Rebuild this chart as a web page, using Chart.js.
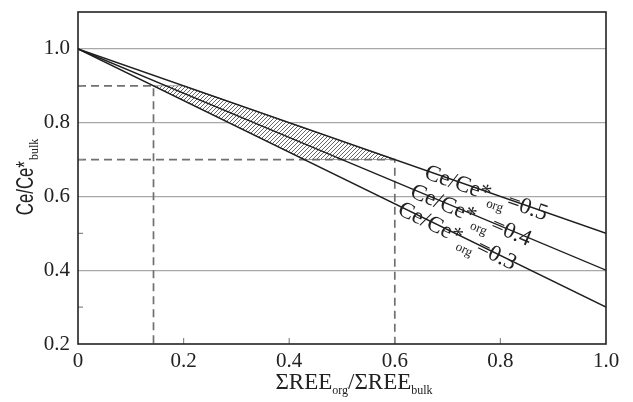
<!DOCTYPE html>
<html>
<head>
<meta charset="utf-8">
<script src="https://cdn.jsdelivr.net/npm/chart.js@4.4.1/dist/chart.umd.min.js"></script>
<style>
html,body{margin:0;padding:0;background:#fff;}
#wrap{width:633px;height:402px;}
</style>
</head>
<body>
<div id="wrap"><canvas id="c" width="633" height="402"></canvas></div>
<script>
// ---- data ----
const lineX = [0, 1];
const ratios = [0.5, 0.4, 0.3];
const lineY05 = [1.0, 0.5];
const lineY04 = [1.0, 0.4];
const lineY03 = [1.0, 0.3];
const hatchX = [0.143, 0.2, 0.6, 0.429, 0.143];
const hatchY = [0.9, 0.9, 0.7, 0.7, 0.9];
const guideAX = [0, 0.143, 0.143];
const guideAY = [0.9, 0.9, 0.2];
const guideBX = [0, 0.6, 0.6];
const guideBY = [0.7, 0.7, 0.2];
const xTicks = [0, 0.2, 0.4, 0.6, 0.8, 1.0];
const yTicks = [0.2, 0.4, 0.6, 0.8, 1.0];
const xMinorTicks = [0.2, 0.4, 0.6, 0.8];
const yMinorTicks = [0.3, 0.5, 0.7, 0.9];
const labelStartX = [0.659, 0.633, 0.61];
const lineLabelMain = 'Ce/Ce*';
const lineLabelSub = 'org';
const xTitleParts = ['ΣREE', 'org', '/ΣREE', 'bulk'];
const yTitleMain = 'Ce/Ce*';
const yTitleSub = 'bulk';

const SERIF = "'Liberation Serif', 'DejaVu Serif', serif";
const SANS = "'Liberation Sans', Arial, sans-serif";
const TXT = '#222';

function pts(xs, ys) { return xs.map((x, i) => ({x: x, y: ys[i]})); }

function hatchPattern() {
  const s = 4;
  const c = document.createElement('canvas');
  c.width = s; c.height = s;
  const g = c.getContext('2d');
  g.fillStyle = '#fff'; g.fillRect(0, 0, s, s);
  g.strokeStyle = '#666'; g.lineWidth = 1;
  g.beginPath();
  g.moveTo(0, s); g.lineTo(s, 0);
  g.moveTo(-1, 1); g.lineTo(1, -1);
  g.moveTo(s - 1, s + 1); g.lineTo(s + 1, s - 1);
  g.stroke();
  return g.createPattern(c, 'repeat');
}

const lineSeries = [lineY05, lineY04, lineY03];

const decorPlugin = {
  id: 'decor',
  afterDatasetsDraw(chart) {
    const ctx = chart.ctx;
    const xs = chart.scales.x, ys = chart.scales.y;
    const a = chart.chartArea;
    ctx.save();
    // minor ticks
    ctx.strokeStyle = '#8a8a8a'; ctx.lineWidth = 1.2;
    ctx.beginPath();
    yMinorTicks.forEach(v => { const y = ys.getPixelForValue(v); ctx.moveTo(a.left, y); ctx.lineTo(a.left + 5, y); });
    xMinorTicks.forEach(v => { const x = xs.getPixelForValue(v); ctx.moveTo(x, a.bottom); ctx.lineTo(x, a.bottom - 6); });
    ctx.stroke();
    // frame
    ctx.strokeStyle = '#222'; ctx.lineWidth = 1.6;
    ctx.strokeRect(a.left, a.top, a.right - a.left, a.bottom - a.top);
    // line labels
    ctx.fillStyle = TXT;
    ctx.textBaseline = 'middle';
    ctx.textAlign = 'left';
    lineSeries.forEach((ser, i) => {
      const x0 = xs.getPixelForValue(lineX[0]), y0 = ys.getPixelForValue(ser[0]);
      const x1 = xs.getPixelForValue(lineX[1]), y1 = ys.getPixelForValue(ser[1]);
      const ang = Math.atan2(y1 - y0, x1 - x0);
      const px = xs.getPixelForValue(labelStartX[i]);
      const py = y0 + (px - x0) * (y1 - y0) / (x1 - x0);
      ctx.save();
      ctx.translate(px, py);
      ctx.rotate(ang);
      ctx.font = '23px ' + SERIF;
      ctx.fillText(lineLabelMain, 0, 2);
      const w = ctx.measureText(lineLabelMain).width;
      ctx.font = '13px ' + SERIF;
      ctx.fillText(lineLabelSub, w - 1, 11);
      const w2 = ctx.measureText(lineLabelSub).width;
      ctx.font = '23px ' + SERIF;
      ctx.fillText('=' + ratios[i].toFixed(1), w + w2 + 1, 2);
      ctx.restore();
    });
    ctx.restore();
  },
  afterDraw(chart) {
    const ctx = chart.ctx;
    ctx.save();
    ctx.fillStyle = TXT;
    ctx.textBaseline = 'alphabetic';
    ctx.textAlign = 'left';
    // x title
    const big = '23px ' + SERIF, small = '12px ' + SERIF;
    const fonts = [big, small, big, small];
    const offs = [0, 5, 0, 5];
    let widths = xTitleParts.map((t, i) => { ctx.font = fonts[i]; return ctx.measureText(t).width; });
    let total = widths.reduce((s, v) => s + v, 0);
    let x = 354 - total / 2;
    const base = 389;
    xTitleParts.forEach((t, i) => { ctx.font = fonts[i]; ctx.fillText(t, x, base + offs[i]); x += widths[i]; });
    // y title
    ctx.save();
    ctx.translate(33, 177);
    ctx.rotate(-Math.PI / 2);
    const sx = 0.7;
    ctx.font = '24px ' + SANS;
    const w1 = ctx.measureText(yTitleMain).width * sx;
    ctx.font = '12px ' + SERIF;
    const w2 = ctx.measureText(yTitleSub).width;
    const tot = w1 + w2 + 1;
    const start = -tot / 2;
    ctx.save();
    ctx.translate(start, 0);
    ctx.scale(sx, 1);
    ctx.font = '24px ' + SANS;
    ctx.fillText(yTitleMain, 0, 0);
    ctx.restore();
    ctx.font = '12px ' + SERIF;
    ctx.fillText(yTitleSub, start + w1 + 1, 5);
    ctx.restore();
    ctx.restore();
  }
};

const lineStyle = {borderColor: '#1e1e1e', borderWidth: 1.4, pointRadius: 0, fill: false, order: 0};
const guideStyle = {borderColor: '#707070', borderWidth: 1.7, borderDash: [8, 5], pointRadius: 0, fill: false, order: 1};

new Chart(document.getElementById('c'), {
  type: 'line',
  data: {
    datasets: [
      Object.assign({data: pts(lineX, lineY05)}, lineStyle),
      Object.assign({data: pts(lineX, lineY04)}, lineStyle),
      Object.assign({data: pts(lineX, lineY03)}, lineStyle),
      Object.assign({data: pts(guideAX, guideAY)}, guideStyle),
      Object.assign({data: pts(guideBX, guideBY)}, guideStyle),
      {data: pts(hatchX, hatchY), borderColor: '#9a9a9a', borderWidth: 1, backgroundColor: hatchPattern(), fill: 'shape', pointRadius: 0, order: 2}
    ]
  },
  options: {
    responsive: false,
    animation: false,
    events: [],
    layout: {padding: {top: 12, right: 27, left: 0, bottom: 0}},
    plugins: {legend: {display: false}, tooltip: {enabled: false}, title: {display: false}},
    scales: {
      x: {
        type: 'linear', min: 0, max: 1,
        afterBuildTicks: s => { s.ticks = xTicks.map(v => ({value: v})); },
        afterFit: s => { s.height = 58; s.paddingLeft = 0; s.paddingRight = 0; },
        grid: {display: false, drawTicks: false},
        border: {display: false},
        ticks: {
          padding: 5, color: TXT, maxRotation: 0, autoSkip: false,
          font: {family: SERIF, size: 21},
          callback: v => (v === 0 ? '0' : Number(v).toFixed(1))
        }
      },
      y: {
        type: 'linear', min: 0.2, max: 1.1,
        afterBuildTicks: s => { s.ticks = yTicks.map(v => ({value: v})); },
        afterFit: s => { s.width = 78; s.paddingTop = 0; s.paddingBottom = 0; },
        grid: {
          drawTicks: false, lineWidth: 1.3,
          color: c => (c.tick && c.tick.value <= 0.21 ? 'rgba(0,0,0,0)' : '#a8a8a8')
        },
        border: {display: false},
        ticks: {
          padding: 8, color: TXT, autoSkip: false,
          font: {family: SERIF, size: 21},
          callback: v => Number(v).toFixed(1)
        }
      }
    }
  },
  plugins: [decorPlugin]
});
</script>
</body>
</html>
